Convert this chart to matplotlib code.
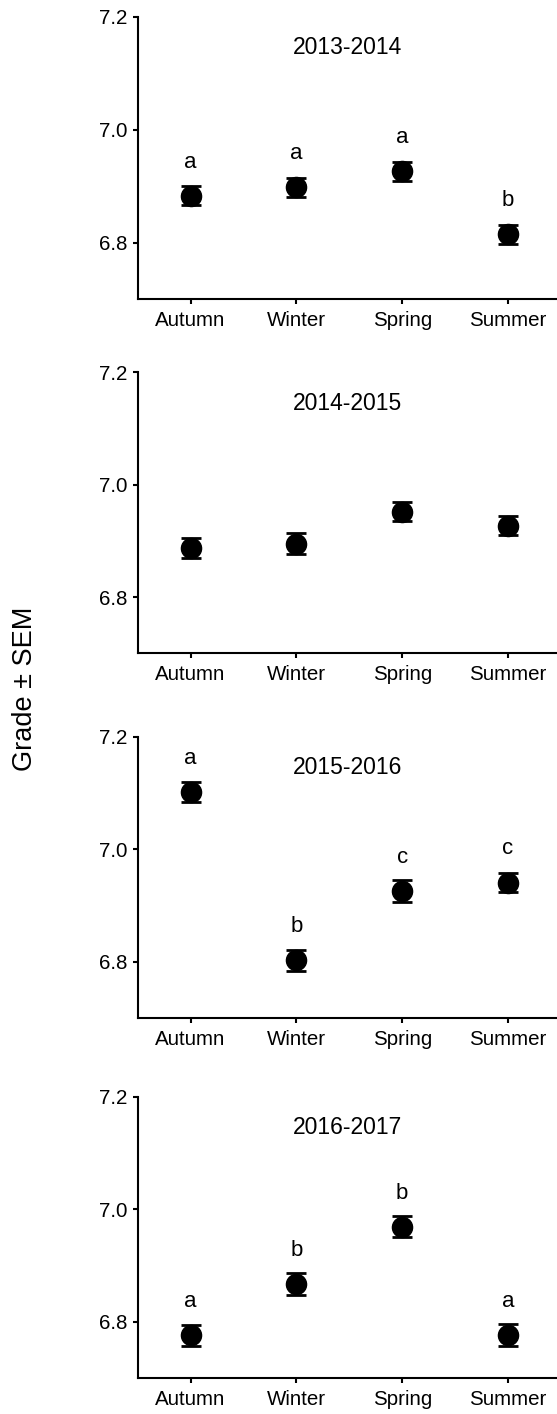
import matplotlib
matplotlib.use("Agg")
import matplotlib.pyplot as plt

plt.rcParams['font.family'] = ['Liberation Sans', 'DejaVu Sans']

seasons = ["Autumn", "Winter", "Spring", "Summer"]
years = ["2013-2014", "2014-2015", "2015-2016", "2016-2017"]

means_2013 = [6.883, 6.898, 6.926, 6.815]
sem_2013 = [0.0166, 0.0166, 0.0163, 0.0168]
letters_2013 = ["a", "a", "a", "b"]

means_2014 = [6.887, 6.895, 6.952, 6.927]
sem_2014 = [0.0177, 0.0183, 0.0171, 0.0168]
letters_2014 = ["", "", "", ""]

means_2015 = [7.101, 6.803, 6.926, 6.941]
sem_2015 = [0.0178, 0.0183, 0.0190, 0.0172]
letters_2015 = ["a", "b", "c", "c"]

means_2016 = [6.776, 6.867, 6.969, 6.777]
sem_2016 = [0.0187, 0.0198, 0.0187, 0.0196]
letters_2016 = ["a", "b", "b", "a"]

yticks = [6.8, 7.0, 7.2]
ytick_labels = ["6.8", "7.0", "7.2"]

all_means = [means_2013, means_2014, means_2015, means_2016]
all_sems = [sem_2013, sem_2014, sem_2015, sem_2016]
all_letters = [letters_2013, letters_2014, letters_2015, letters_2016]

W, H = 557, 1414
fig = plt.figure(figsize=(W / 100, H / 100), dpi=100)

# panel pixel extents (top, bottom)
extents = [(16.5, 299.3), (372.3, 653.3), (736.7, 1018.3), (1096.7, 1378.3)]
left_px = 137.7
width_px = 423.2

x = list(range(1, len(seasons) + 1))
for i in range(4):
    top, bot = extents[i]
    ax = fig.add_axes([left_px / W, 1 - bot / H, width_px / W, (bot - top) / H])
    ax.errorbar(x, all_means[i], yerr=all_sems[i], fmt='o', color='black',
                markersize=14.5, capsize=7.5, capthick=2.0, elinewidth=2.0,
                ecolor='black', markeredgecolor='black')
    for xi, m, lab in zip(x, all_means[i], all_letters[i]):
        if lab:
            ax.text(xi, m + 0.05, lab, ha='center', va='baseline', fontsize=16)
    ax.text(2.48, 7.145, years[i], ha='center', va='center', fontsize=16.5)
    ax.set_xlim(0.5, 4.5)
    ax.set_ylim(6.7, 7.2)
    ax.set_xticks(x)
    ax.set_xticklabels(seasons)
    ax.set_yticks(yticks)
    ax.set_yticklabels(ytick_labels)
    for s in ['top', 'right']:
        ax.spines[s].set_visible(False)
    for s in ['left', 'bottom']:
        ax.spines[s].set_linewidth(1.5)
    ax.tick_params(axis='both', direction='out', length=3.6, width=1.5,
                   labelsize=14.8, colors='black')
    ax.tick_params(axis='x', pad=4.5)
    ax.tick_params(axis='y', pad=4)

fig.text(25 / W, 1 - 689 / H, "Grade \u00b1 SEM", rotation=90, ha='center',
         va='center', fontsize=19.5)

fig.savefig("out.png", dpi=100)
